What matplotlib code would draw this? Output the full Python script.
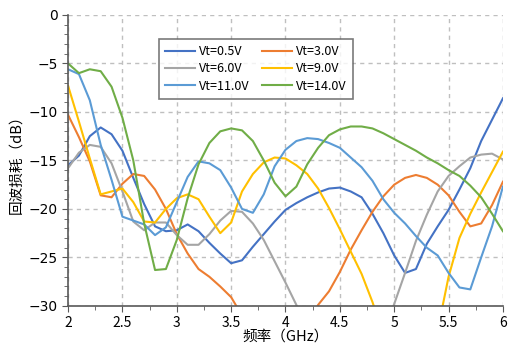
import matplotlib
matplotlib.use('Agg')

import matplotlib.pyplot as plt
from matplotlib.ticker import MultipleLocator
import numpy as np

# -------- data (0.1 GHz steps) --------
freq = np.round(np.arange(2.0, 6.01, 0.1), 2)

vt_05 = [-15.5, -14.5, -12.5, -11.6, -12.3, -14.0, -16.8, -19.5, -21.8, -22.3,
         -22.2, -21.6, -22.3, -23.5, -24.6, -25.6, -25.3, -23.9, -22.6, -21.3,
         -20.1, -19.4, -18.8, -18.3, -17.9, -17.8, -18.2, -18.8, -20.5, -22.5,
         -24.8, -26.6, -26.2, -23.6, -21.8, -20.1, -18.0, -15.8, -13.0, -10.8,
         -8.6]
vt_30 = [-10.3, -12.6, -15.1, -18.6, -18.8, -17.4, -16.4, -16.6, -18.0, -20.0,
         -22.6, -24.6, -26.2, -27.0, -28.0, -29.1, -31.0, -33.0, -33.5, -34.0,
         -34.0, -33.5, -32.0, -29.9, -28.5, -26.5, -24.2, -22.2, -20.3, -18.7,
         -17.5, -16.8, -16.5, -16.8, -17.5, -18.6, -20.3, -21.8, -21.5, -19.6,
         -17.2]
vt_60 = [-15.8, -14.2, -13.4, -13.6, -15.3, -18.2, -21.3, -22.2, -21.4, -21.4,
         -22.7, -23.7, -23.7, -22.6, -21.2, -20.2, -20.3, -21.5, -23.2, -25.4,
         -27.6, -29.9, -32.5, -34.0, -35.0, -35.0, -35.0, -34.5, -34.0, -33.0,
         -29.8, -26.6, -23.3, -20.6, -18.2, -16.6, -15.6, -14.7, -14.4, -14.3,
         -14.9]
vt_90 = [-7.3, -11.0, -14.8, -18.5, -18.2, -17.9, -19.3, -21.3, -21.4, -20.0,
         -18.9, -18.5, -19.0, -20.8, -22.5, -21.4, -18.2, -16.4, -15.2, -14.7,
         -14.8, -15.5, -16.4, -17.9, -19.9, -22.1, -24.4, -26.7, -29.6, -33.0,
         -35.0, -35.0, -35.0, -34.5, -32.5, -27.0, -23.0, -20.5, -18.3, -16.2,
         -14.1]
vt_110 = [-5.6, -6.1, -8.8, -13.4, -17.0, -20.8, -21.2, -21.6, -22.7, -21.9,
          -19.3, -16.7, -15.1, -15.3, -16.0, -17.8, -20.0, -20.4, -18.5, -15.6,
          -13.9, -13.0, -12.7, -12.8, -13.2, -13.7, -14.7, -15.7, -17.1, -19.0,
          -20.4, -21.5, -22.8, -24.0, -24.8, -26.6, -28.1, -28.3, -25.0, -21.8,
          -17.7]
vt_140 = [-5.0, -6.0, -5.6, -5.8, -7.4, -10.6, -15.0, -21.5, -26.3, -26.2,
          -23.2, -18.9, -15.4, -13.2, -12.0, -11.7, -11.9, -13.0, -15.0, -17.3,
          -18.7, -17.7, -15.4, -13.7, -12.4, -11.8, -11.5, -11.5, -11.7, -12.2,
          -12.8, -13.4, -14.0, -14.7, -15.3, -16.0, -16.6, -17.6, -18.8, -20.5,
          -22.3]

labels = ['Vt=0.5V', 'Vt=3.0V', 'Vt=6.0V', 'Vt=9.0V', 'Vt=11.0V', 'Vt=14.0V']
series = [vt_05, vt_30, vt_60, vt_90, vt_110, vt_140]
colors = ['#4472C4', '#ED7D31', '#A5A5A5', '#FFC000', '#5B9BD5', '#70AD47']

# -------- figure --------
cjk = ['Noto Sans CJK SC', 'DejaVu Sans']
fig = plt.figure(figsize=(5.08, 3.48), dpi=100)
ax = fig.add_axes([0.134, 0.121, 0.856, 0.836])

lines = []
for ys, lab, c in zip(series, labels, colors):
    ln, = ax.plot(freq, ys, color=c, lw=1.5, label=lab)
    lines.append(ln)

ax.set_xlim(2, 6)
ax.set_ylim(-30, 0)
ax.xaxis.set_minor_locator(MultipleLocator(0.25))
ax.yaxis.set_major_locator(MultipleLocator(5))
ax.yaxis.set_minor_locator(MultipleLocator(1))
ax.set_xticks([2, 2.5, 3, 3.5, 4, 4.5, 5, 5.5, 6])
ax.set_xticklabels(['2', '2.5', '3', '3.5', '4', '4.5', '5', '5.5', '6'],
                   family=cjk, fontsize=11)

ax.grid(True, which='major', color='#BFBFBF', ls=(0, (3, 3)), lw=1)
ax.set_axisbelow(True)
for s in ['top', 'right']:
    ax.spines[s].set_visible(False)
for s in ['left', 'bottom']:
    ax.spines[s].set_color('#595959')
    ax.spines[s].set_linewidth(1.2)
ax.tick_params(which='both', colors='#595959', direction='out')
ax.tick_params(which='major', length=4, labelcolor='black', labelsize=10)
ax.tick_params(which='minor', length=3)
ax.tick_params(axis='x', which='major', pad=3)

ax.set_xlabel('频率（GHz）', family=cjk, fontsize=10.5, labelpad=0)
ax.set_ylabel('回波损耗（dB）', family=cjk, fontsize=10.5, labelpad=4)

# legend fills row by row in the reference: 0.5/3.0, 6.0/9.0, 11.0/14.0
order = [0, 2, 4, 1, 3, 5]
leg = ax.legend([lines[i] for i in order], [labels[i] for i in order],
                ncol=2, loc='upper left', bbox_to_anchor=(0.195, 0.94),
                prop={'family': cjk, 'size': 9}, frameon=True, fancybox=False,
                handlelength=2.4, columnspacing=1.0, borderpad=0.5,
                labelspacing=0.35, handletextpad=0.3)
leg.get_frame().set_edgecolor('#595959')
leg.get_frame().set_linewidth(1.2)

fig.savefig('out.png', dpi=100)
